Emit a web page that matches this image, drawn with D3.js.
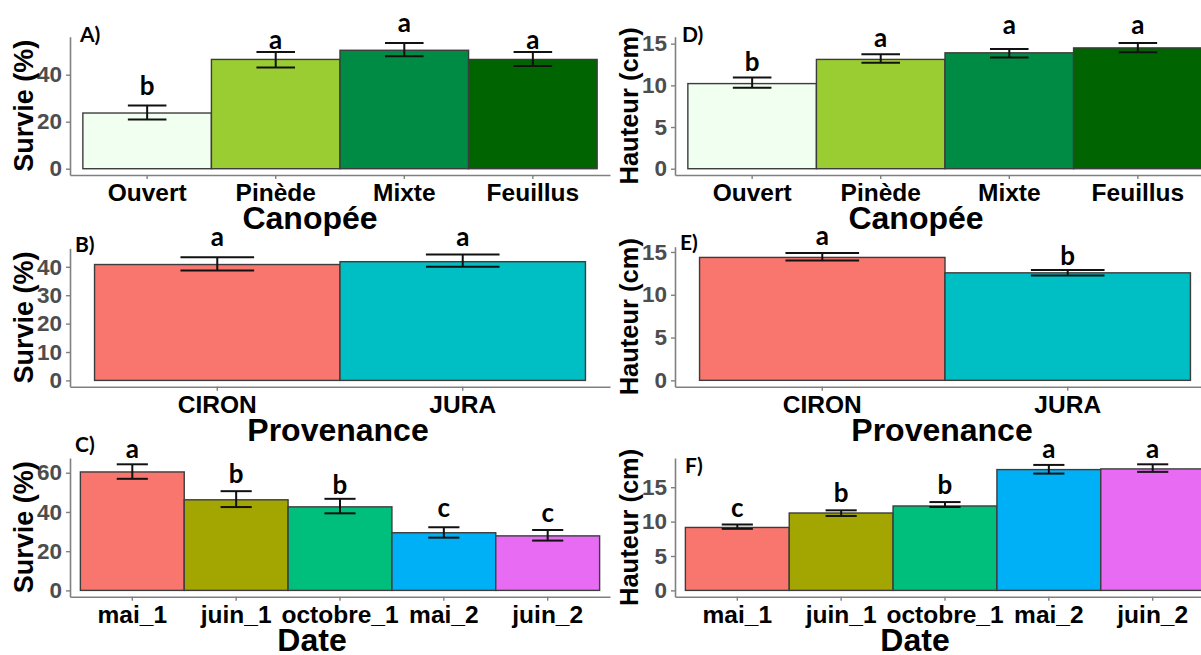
<!DOCTYPE html>
<html><head><meta charset="utf-8">
<script src="https://cdn.jsdelivr.net/npm/d3@7"></script>
<style>body{margin:0;background:#fff}svg{display:block}</style>
</head><body><svg id="c" width="1201" height="655"></svg>
<script>
// ---------- categories ----------
const canopee = ["Ouvert","Pinède","Mixte","Feuillus"];
const provenance = ["CIRON","JURA"];
const dates = ["mai_1","juin_1","octobre_1","mai_2","juin_2"];
const canopeeColors = ["#F0FFF0","#9ACD32","#008B45","#006400"];
const provenanceColors = ["#F8766D","#00BFC4"];
const dateColors = ["#F8766D","#A3A500","#00BF7D","#00B0F6","#E76BF3"];

// ---------- A) Survie ~ Canopée ----------
const survieCanopee      = [23.7, 46.5, 50.4, 46.5];
const survieCanopeeLow   = [20.9, 43.1, 47.9, 43.7];
const survieCanopeeHigh  = [26.9, 49.7, 53.5, 49.7];
const survieCanopeeLet   = ["b","a","a","a"];
const survieCanopeeLetY  = [31.5, 51.1, 58.1, 51.1];
const survieCanopeeTicks = [0, 20, 40];

// ---------- B) Survie ~ Provenance ----------
const surviePro      = [40.8, 41.8];
const survieProLow   = [38.7, 40.0];
const survieProHigh  = [43.4, 44.3];
const survieProLet   = ["a","a"];
const survieProLetY  = [47.2, 47.2];
const survieProTicks = [0, 10, 20, 30, 40];

// ---------- C) Survie ~ Date ----------
const survieDate      = [60.4, 46.2, 42.6, 29.4, 27.8];
const survieDateLow   = [56.9, 42.5, 39.3, 26.9, 25.4];
const survieDateHigh  = [64.3, 50.6, 46.7, 32.2, 30.8];
const survieDateLet   = ["a","b","b","c","c"];
const survieDateLetY  = [67.4, 54.7, 49.4, 37.6, 35.0];
const survieDateTicks = [0, 20, 40, 60];

// ---------- D) Hauteur ~ Canopée ----------
const hautCanopee      = [10.21, 13.11, 13.90, 14.49];
const hautCanopeeLow   = [9.70, 12.71, 13.35, 13.98];
const hautCanopeeHigh  = [10.93, 13.74, 14.37, 15.08];
const hautCanopeeLet   = ["b","a","a","a"];
const hautCanopeeLetY  = [11.76, 14.6, 16.2, 16.2];
const hautCanopeeTicks = [0, 5, 10, 15];

// ---------- E) Hauteur ~ Provenance ----------
const hautPro      = [14.36, 12.56];
const hautProLow   = [14.0, 12.24];
const hautProHigh  = [14.87, 12.9];
const hautProLet   = ["a","b"];
const hautProLetY  = [15.85, 13.5];
const hautProTicks = [0, 5, 10, 15];

// ---------- F) Hauteur ~ Date ----------
const hautDate      = [9.15, 11.25, 12.27, 17.56, 17.66];
const hautDateLow   = [8.95, 10.82, 12.12, 16.98, 17.23];
const hautDateHigh  = [9.58, 11.64, 12.84, 18.24, 18.33];
const hautDateLet   = ["c","b","b","a","a"];
const hautDateLetY  = [10.68, 12.84, 14.05, 19.25, 19.25];
const hautDateTicks = [0, 5, 10, 15];

// ---------- layout ----------
const W = 540;
const panels = [
  {tag:"A)", tagX:80, tagY:41.7, ax:70, top:36.7, bot:175, cats:canopee, cols:canopeeColors,
   m:survieCanopee, lo:survieCanopeeLow, hi:survieCanopeeHigh, let:survieCanopeeLet, letY:survieCanopeeLetY,
   ticks:survieCanopeeTicks, ytitle:"Survie (%)", yts:27, xtitle:"Canopée", xtdx:-30},
  {tag:"B)", tagX:75, tagY:251.5, ax:70, top:248.3, bot:386.7, cats:provenance, cols:provenanceColors,
   m:surviePro, lo:survieProLow, hi:survieProHigh, let:survieProLet, letY:survieProLetY,
   ticks:survieProTicks, ytitle:"Survie (%)", yts:27, xtitle:"Provenance", xtdx:-2},
  {tag:"C)", tagX:75, tagY:452, ax:70, top:458, bot:596.7, cats:dates, cols:dateColors,
   m:survieDate, lo:survieDateLow, hi:survieDateHigh, let:survieDateLet, letY:survieDateLetY,
   ticks:survieDateTicks, ytitle:"Survie (%)", yts:27, xtitle:"Date", xtdx:-28},
  {tag:"D)", tagX:682, tagY:41.7, ax:675, top:36.7, bot:175, cats:canopee, cols:canopeeColors,
   m:hautCanopee, lo:hautCanopeeLow, hi:hautCanopeeHigh, let:hautCanopeeLet, letY:hautCanopeeLetY,
   ticks:hautCanopeeTicks, ytitle:"Hauteur (cm)", yts:25.5, xtitle:"Canopée", xtdx:-29},
  {tag:"E)", tagX:680, tagY:250, ax:675, top:246.7, bot:386.7, cats:provenance, cols:provenanceColors,
   m:hautPro, lo:hautProLow, hi:hautProHigh, let:hautProLet, letY:hautProLetY,
   ticks:hautProTicks, ytitle:"Hauteur (cm)", yts:25.5, xtitle:"Provenance", xtdx:-3},
  {tag:"F)", tagX:685, tagY:473.3, ax:675, top:458, bot:596.7, cats:dates, cols:dateColors,
   m:hautDate, lo:hautDateLow, hi:hautDateHigh, let:hautDateLet, letY:hautDateLetY,
   ticks:hautDateTicks, ytitle:"Hauteur (cm)", yts:25.5, xtitle:"Date", xtdx:-30}
];

const svg = d3.select("#c");
const AX = "'Liberation Sans', Arial, sans-serif";
const LT = "Lato, 'Open Sans', sans-serif";
const axisCol = "#808080";

panels.forEach(p => {
  const g = svg.append("g");
  const hmax = d3.max(p.hi);
  const y = d3.scaleLinear().domain([-0.05*hmax, 1.05*hmax]).range([p.bot, p.top]);
  const x = d3.scaleBand().domain(p.cats).range([p.ax, p.ax + W]).paddingInner(0).paddingOuter(0.1);
  const bw = x.bandwidth();
  const rows = p.cats.map((c,i)=>({c, m:p.m[i], lo:p.lo[i], hi:p.hi[i], l:p.let[i], ly:p.letY[i], col:p.cols[i]}));

  // bars
  g.selectAll("rect.bar").data(rows).join("rect")
    .attr("x", d=>x(d.c)).attr("y", d=>y(d.m))
    .attr("width", bw).attr("height", d=>y(0)-y(d.m))
    .attr("fill", d=>d.col).attr("stroke", "#3c3c3c").attr("stroke-width", 1.4);

  // error bars
  const cw = bw*0.3;
  const eb = g.selectAll("g.eb").data(rows).join("g").attr("stroke","#111").attr("stroke-width",2);
  eb.append("line").attr("x1",d=>x(d.c)+bw/2).attr("x2",d=>x(d.c)+bw/2).attr("y1",d=>y(d.lo)).attr("y2",d=>y(d.hi));
  eb.append("line").attr("x1",d=>x(d.c)+bw/2-cw/2).attr("x2",d=>x(d.c)+bw/2+cw/2).attr("y1",d=>y(d.lo)).attr("y2",d=>y(d.lo));
  eb.append("line").attr("x1",d=>x(d.c)+bw/2-cw/2).attr("x2",d=>x(d.c)+bw/2+cw/2).attr("y1",d=>y(d.hi)).attr("y2",d=>y(d.hi));

  // letters
  g.selectAll("text.let").data(rows).join("text")
    .attr("x", d=>x(d.c)+bw/2).attr("y", d=>y(d.ly))
    .attr("text-anchor","middle").attr("font-family",LT).attr("font-weight","bold")
    .attr("font-size",26).attr("fill","#000").text(d=>d.l);

  // y axis
  const ya = g.append("g").attr("transform",`translate(${p.ax},0)`)
    .call(d3.axisLeft(y).tickValues(p.ticks).tickSize(4).tickSizeOuter(0).tickPadding(4).tickFormat(d3.format("d")));
  ya.select(".domain").attr("stroke",axisCol).attr("stroke-width",1.6);
  ya.selectAll(".tick line").attr("stroke",axisCol).attr("stroke-width",1.4);
  ya.selectAll(".tick text").attr("font-family",AX).attr("font-weight","bold").attr("font-size",22.5).attr("fill","#4D4D4D");

  // x axis
  const xa = g.append("g").attr("transform",`translate(0,${p.bot})`)
    .call(d3.axisBottom(x).tickSize(4).tickSizeOuter(0).tickPadding(5));
  xa.select(".domain").attr("stroke",axisCol).attr("stroke-width",1.6);
  xa.selectAll(".tick line").attr("stroke",axisCol).attr("stroke-width",1.4);
  xa.selectAll(".tick text").attr("font-family",AX).attr("font-weight","bold").attr("font-size",24.5).attr("fill","#000");

  // axis titles
  g.append("text").attr("transform",`translate(${p.ax-37},${(p.top+p.bot)/2}) rotate(-90)`)
    .attr("text-anchor","middle").attr("font-family",AX).attr("font-weight","bold")
    .attr("font-size",p.yts).attr("fill","#000").text(p.ytitle);
  g.append("text").attr("x", p.ax + W/2 + p.xtdx).attr("y", p.bot + 54)
    .attr("text-anchor","middle").attr("font-family",AX).attr("font-weight","bold")
    .attr("font-size",32).attr("fill","#000").text(p.xtitle);

  // tag
  g.append("text").attr("x",p.tagX).attr("y",p.tagY).attr("font-family",LT).attr("font-weight","bold")
    .attr("font-size",21).attr("fill","#000").text(p.tag);
});
</script></body></html>
